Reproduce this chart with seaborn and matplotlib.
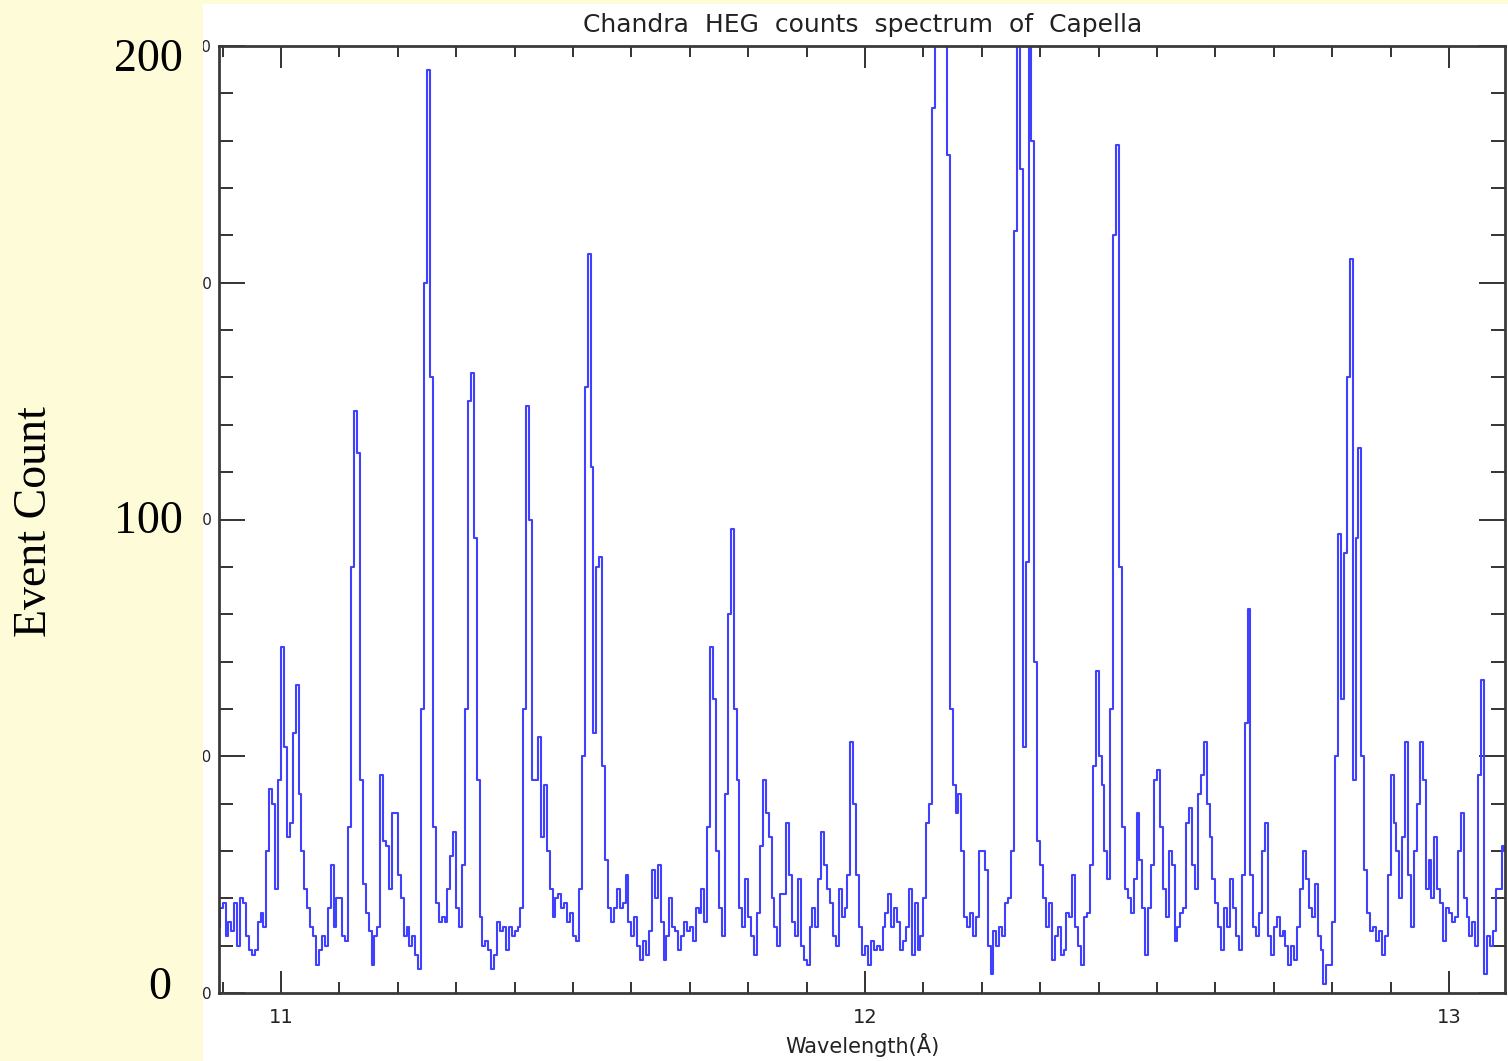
import numpy as np
import matplotlib
matplotlib.use("Agg")
import matplotlib.pyplot as plt
from matplotlib.patches import Rectangle
from matplotlib.ticker import MultipleLocator
import seaborn as sns

# HEG counts, 0.005 A bins starting at 10.89 A (one list per 0.1 A)
wave_start = 10.89
bin_width = 0.005

c_1089 = [14, 18]
c_1090 = [19, 12, 15, 13, 19, 10, 20, 19, 12, 9, 8, 9, 15, 17, 14, 30, 43, 40, 22, 45]
c_1100 = [73, 52, 33, 36, 55, 65, 42, 30, 22, 18, 14, 12, 6, 9, 12, 10, 18, 27, 14, 20]
c_1110 = [20, 12, 11, 35, 90, 123, 114, 45, 23, 17, 13, 6, 12, 14, 46, 32, 31, 22, 38, 38]
c_1120 = [25, 20, 12, 14, 10, 12, 8, 5, 60, 150, 195, 130, 35, 19, 15, 16, 15, 22, 29, 34]
c_1130 = [18, 14, 27, 60, 125, 131, 96, 45, 16, 10, 11, 9, 5, 8, 15, 13, 14, 9, 14, 12]
c_1140 = [13, 14, 18, 60, 124, 100, 45, 45, 54, 33, 44, 30, 22, 16, 20, 21, 18, 19, 15, 17]
c_1150 = [12, 11, 22, 50, 128, 156, 111, 55, 90, 92, 48, 28, 18, 15, 18, 22, 18, 19, 25, 15]
c_1160 = [12, 16, 10, 7, 11, 8, 13, 26, 20, 27, 15, 7, 12, 20, 14, 13, 9, 12, 15, 13]
c_1170 = [14, 11, 18, 17, 22, 15, 35, 73, 62, 30, 18, 12, 42, 80, 98, 60, 45, 18, 14, 24]
c_1180 = [16, 12, 8, 17, 31, 45, 38, 33, 20, 14, 10, 21, 21, 36, 25, 15, 12, 24, 10, 7]
c_1190 = [6, 14, 18, 14, 24, 34, 27, 22, 19, 12, 10, 22, 16, 18, 25, 53, 40, 25, 14, 8]
c_1200 = [10, 6, 11, 9, 10, 9, 14, 17, 21, 14, 18, 15, 9, 11, 14, 22, 8, 19, 9, 12]
c_1210 = [20, 36, 40, 187, 320, 400, 350, 260, 177, 60, 44, 38, 42, 30, 16, 14, 17, 12, 16, 30]
c_1220 = [30, 26, 10, 4, 13, 10, 14, 12, 19, 20, 30, 161, 300, 174, 52, 91, 300, 180, 70, 32]
c_1230 = [27, 20, 14, 19, 7, 12, 14, 8, 9, 17, 16, 25, 14, 10, 6, 16, 17, 27, 48, 68]
c_1240 = [50, 44, 30, 24, 60, 160, 179, 90, 35, 22, 20, 17, 24, 38, 28, 18, 8, 18, 27, 45]
c_1250 = [47, 35, 22, 16, 30, 27, 11, 14, 17, 18, 36, 39, 27, 22, 42, 46, 53, 40, 33, 24]
c_1260 = [19, 14, 9, 18, 14, 24, 18, 12, 9, 25, 57, 81, 25, 14, 12, 17, 30, 36, 12, 8]
c_1270 = [14, 16, 12, 13, 10, 6, 10, 7, 14, 22, 30, 24, 18, 16, 23, 12, 9, 2, 6, 6]
c_1280 = [15, 50, 97, 62, 93, 130, 155, 45, 96, 115, 50, 26, 17, 13, 14, 11, 13, 8, 12, 25]
c_1290 = [46, 36, 30, 20, 33, 53, 25, 14, 30, 40, 53, 45, 22, 28, 20, 33, 22, 19, 11, 18]
c_1300 = [17, 15, 16, 30, 38, 20, 16, 12, 15, 10, 46, 66, 4, 12, 10, 13, 22, 22, 31, 30]

counts = np.array(c_1089 + c_1090 + c_1100 + c_1110 + c_1120 + c_1130 + c_1140
                  + c_1150 + c_1160 + c_1170 + c_1180 + c_1190 + c_1200 + c_1210
                  + c_1220 + c_1230 + c_1240 + c_1250 + c_1260 + c_1270 + c_1280
                  + c_1290 + c_1300)
wave = wave_start + bin_width * (np.arange(len(counts)) + 0.5)

title = "Chandra  HEG  counts  spectrum  of  Capella"
outer_ticks = ["200", "100", "0"]

W, H = 1508, 1061
fig = plt.figure(figsize=(W / 100, H / 100), dpi=100)
fig.patch.set_facecolor("white")
ax = fig.add_axes([219 / W, 1 - 993 / H, (1505 - 219) / W, (993 - 46) / H])

sns.lineplot(x=wave, y=counts, drawstyle="steps-mid", estimator=None,
             color="#4040ff", lw=1.5, ax=ax)

ax.set_xlim(10.8938, 13.0959)
ax.set_ylim(0, 200)
ax.xaxis.set_major_locator(MultipleLocator(1))
ax.xaxis.set_minor_locator(MultipleLocator(0.1))
ax.yaxis.set_major_locator(MultipleLocator(50))
ax.yaxis.set_minor_locator(MultipleLocator(10))
ax.tick_params(which="both", direction="in", top=True, right=True,
               color="#333333", width=1.4)
ax.tick_params(axis="x", which="major", length=16, labelsize=14, pad=11, labelcolor="#222222")
ax.tick_params(axis="x", which="minor", length=8)
ax.tick_params(axis="y", which="major", length=19, labelsize=11, pad=5, labelcolor="#222222")
ax.tick_params(axis="y", which="minor", length=10)
ax.set_xticks([11, 12, 13])
ax.set_xticklabels(["11", "12", "13"])
for s in ax.spines.values():
    s.set_color("#3a3a3a")
    s.set_linewidth(2)
ax.set_xlabel("Wavelength(Å)", fontsize=15, color="#222222", labelpad=4)

fig.text(863 / W, 1 - 25 / H, title, ha="center", va="center", fontsize=18, color="#222222")

# pale yellow slide background on the left and top
yellow = "#fefcd8"
fig.patches.append(Rectangle((0, 0), 203 / W, 1, transform=fig.transFigure,
                             facecolor=yellow, edgecolor="none", zorder=1))
fig.patches.append(Rectangle((0, 1 - 4 / H), 1, 4 / H, transform=fig.transFigure,
                             facecolor=yellow, edgecolor="none", zorder=1))

serif = ["Liberation Serif", "DejaVu Serif"]
fig.text(183 / W, 1 - 60 / H, outer_ticks[0], ha="right", va="center", fontsize=33, family=serif, zorder=4)
fig.text(183 / W, 1 - 522 / H, outer_ticks[1], ha="right", va="center", fontsize=33, family=serif, zorder=4)
fig.text(171 / W, 1 - 988 / H, outer_ticks[2], ha="right", va="center", fontsize=33, family=serif, zorder=4)
fig.text(35 / W, 1 - 522 / H, "Event Count", rotation=90, ha="center", va="center",
         fontsize=33, family=serif, zorder=4)

fig.savefig("out.png", dpi=100)
